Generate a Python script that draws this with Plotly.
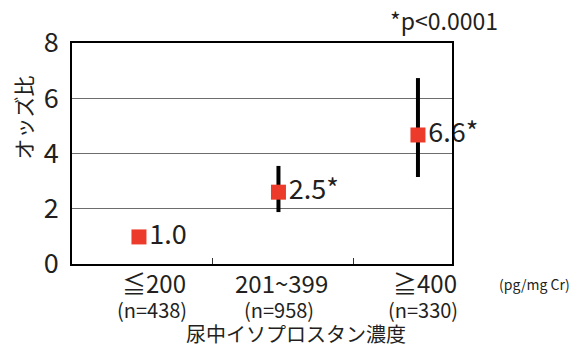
import plotly.graph_objects as go

categories = ["≦200", "201~399", "≧400"]
n_labels = ["(n=438)", "(n=958)", "(n=330)"]
odds = [0.98, 2.6, 4.67]
ci_low = [0.98, 1.88, 3.15]
ci_high = [0.98, 3.55, 6.73]
value_labels = ["1.0", "2.5*", "6.6*"]
y_ticks = [0, 2, 4, 6, 8]

FONT = "Noto Sans CJK JP"
xs = list(range(len(categories)))
err_plus = [h - v for h, v in zip(ci_high, odds)]
err_minus = [v - l for l, v in zip(ci_low, odds)]

fig = go.Figure()
fig.add_trace(go.Scatter(
    x=xs, y=odds, mode="markers+text",
    marker=dict(symbol="square", size=15, color="#ec3b2b", line=dict(width=0)),
    error_y=dict(type="data", array=err_plus, arrayminus=err_minus,
                 thickness=4, width=0, color="black"),
    text=value_labels, textposition="middle right",
    textfont=dict(family=FONT, size=27, color="#231f20"),
    cliponaxis=False, showlegend=False, hoverinfo="skip",
))

label_shift = [15, 3, 7]
for i, (c, n) in enumerate(zip(categories, n_labels)):
    fig.add_annotation(x=xs[i], y=0, xref="x", yref="y", yshift=-18, xshift=label_shift[i],
                       text=c, showarrow=False, xanchor="center", yanchor="middle",
                       font=dict(family=FONT, size=24, color="#231f20"))
    fig.add_annotation(x=xs[i], y=0, xref="x", yref="y", yshift=-45, xshift=label_shift[i] - 2,
                       text=n, showarrow=False, xanchor="center", yanchor="middle",
                       font=dict(family=FONT, size=20, color="#231f20"))

fig.add_annotation(x=xs[2], y=0, xref="x", yref="y", xshift=117, yshift=-20,
                   text="(pg/mg Cr)", showarrow=False, xanchor="center", yanchor="middle",
                   font=dict(family=FONT, size=14, color="#231f20"))
fig.add_annotation(x=1, y=0, xref="x", yref="y", yshift=-69, xshift=18,
                   text="尿中イソプロスタン濃度", showarrow=False, xanchor="center", yanchor="middle",
                   font=dict(family=FONT, size=20, color="#231f20"))
fig.add_annotation(x=1, y=1, xref="paper", yref="paper", xanchor="right", yanchor="bottom",
                   xshift=48, yshift=4,
                   text="*p<0.0001", showarrow=False,
                   font=dict(family=FONT, size=23, color="#231f20"))
fig.add_annotation(x=0, y=0.5, xref="paper", yref="paper", xshift=-50, yshift=36,
                   xanchor="center", yanchor="middle",
                   text="オッズ比", textangle=-90, showarrow=False,
                   font=dict(family=FONT, size=21, color="#231f20"))

fig.update_layout(
    width=571, height=349,
    margin=dict(l=72, r=119, t=43, b=85),
    plot_bgcolor="white", paper_bgcolor="white",
    font=dict(family=FONT, color="#231f20"),
)
fig.update_xaxes(range=[-0.48, 2.244], tickvals=[0.53, 1.535], ticktext=["", ""],
                 ticks="inside", ticklen=6, tickcolor="#333", tickwidth=1,
                 showgrid=False, zeroline=False, showline=True, mirror=True,
                 linecolor="black", linewidth=1.5)
fig.update_yaxes(range=[0, 8], tickvals=y_ticks, ticks="", showgrid=True,
                 gridcolor="#6d6d6d", gridwidth=1, zeroline=False,
                 showline=True, mirror=True, linecolor="black", linewidth=1.5,
                 tickfont=dict(family=FONT, size=27, color="#231f20"),
                 ticklabelstandoff=6)

fig.write_html("out.html", config={"displayModeBar": False},
               post_script="document.body.style.margin='0';")
